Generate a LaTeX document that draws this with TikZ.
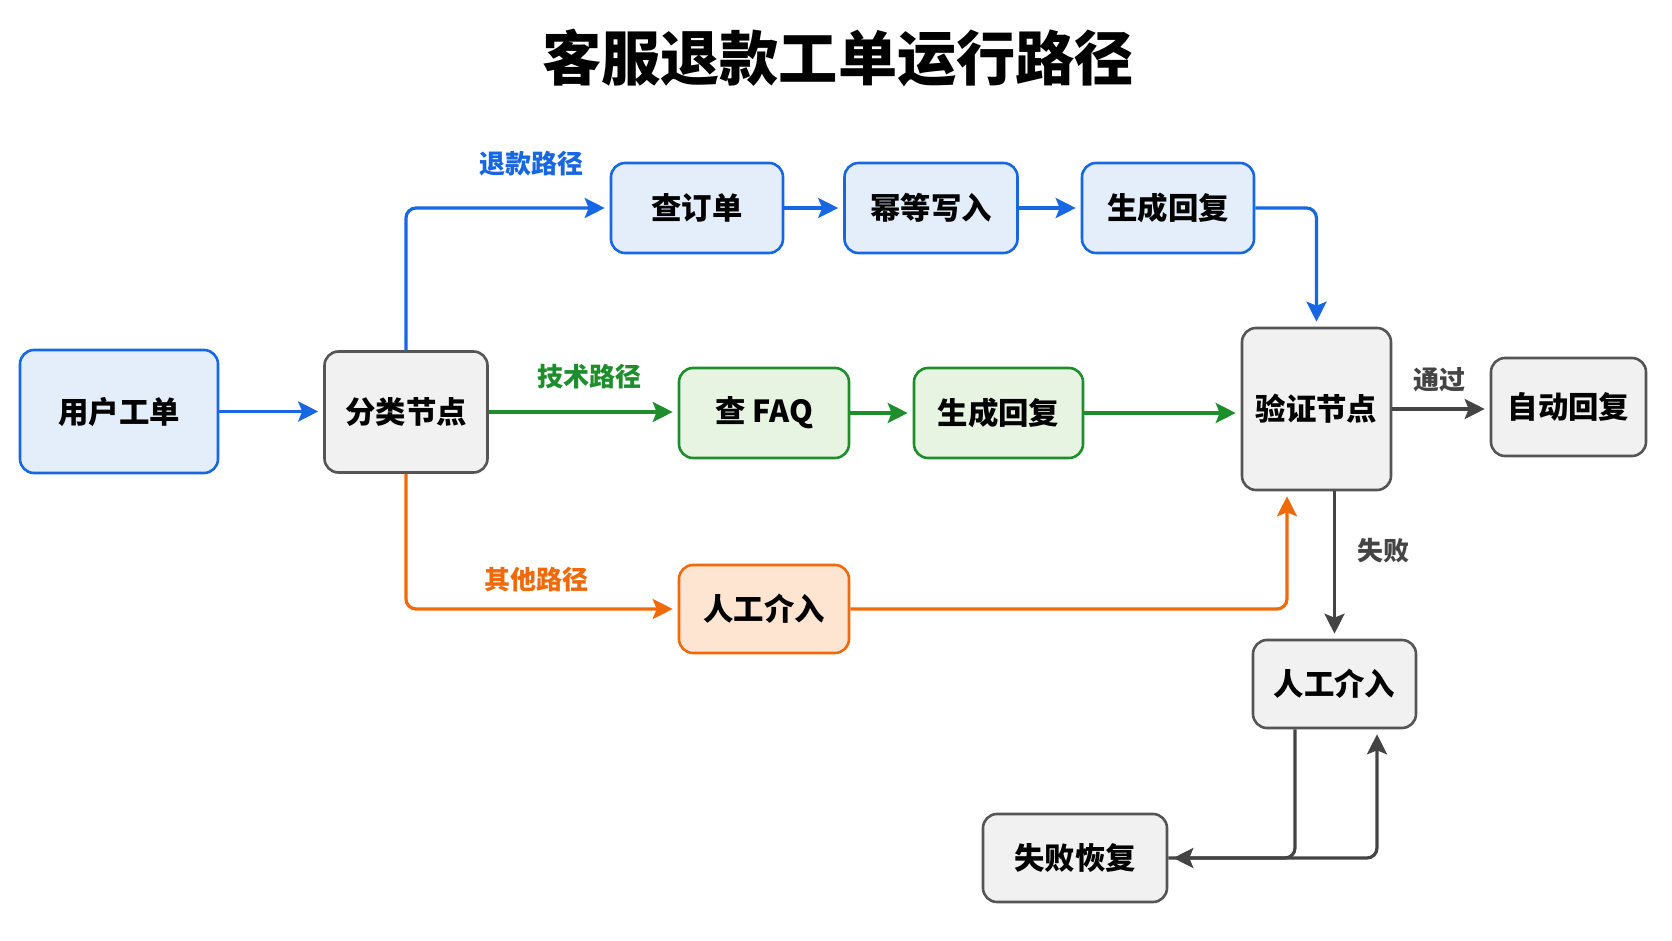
\documentclass[tikz,border=0pt]{standalone}
\usepackage{fontspec}
\setmainfont{Noto Sans CJK SC}
\usetikzlibrary{arrows.meta,calc}
\definecolor{blueS}{HTML}{1767E2}
\definecolor{blueF}{HTML}{E4EEFB}
\definecolor{greenS}{HTML}{1E8E2C}
\definecolor{greenF}{HTML}{E6F4E1}
\definecolor{orangeS}{HTML}{F06A0C}
\definecolor{orangeF}{HTML}{FDE5D1}
\definecolor{grayS}{HTML}{555555}
\definecolor{grayF}{HTML}{F1F1F1}
\definecolor{darkA}{HTML}{444444}
\begin{document}
\begin{tikzpicture}[x=0.5pt,y=-0.5pt,
  box/.style={rounded corners=7pt, line width=1.3pt, align=center, inner sep=0pt, font=\fontsize{15.2pt}{18pt}\selectfont\bfseries},
  bluebox/.style={box, draw=blueS, fill=blueF},
  greenbox/.style={box, draw=greenS, fill=greenF},
  orangebox/.style={box, draw=orangeS, fill=orangeF},
  graybox/.style={box, draw=grayS, fill=grayF},
  conn/.style={line width=1.6pt, rounded corners=5pt, shorten >=2.5pt, -{Stealth[length=10pt,width=10pt,inset=2pt]}},
  bconn/.style={conn, draw=blueS, color=blueS},
  gconn/.style={conn, draw=greenS, color=greenS},
  oconn/.style={conn, draw=orangeS, color=orangeS},
  dconn/.style={conn, draw=darkA, color=darkA},
  lbl/.style={font=\fontsize{13pt}{15pt}\selectfont\bfseries, inner sep=0pt}
]
\useasboundingbox[fill=white] (0,0) rectangle (1672,941);

\node[font=\fontsize{29.6pt}{33pt}\selectfont\bfseries, inner sep=0pt] (title) at (838,58) {客服退款工单运行路径};

\node[bluebox, minimum width=99pt, minimum height=61.5pt] (user) at (119,411.5) {用户工单};
\node[graybox, minimum width=81.5pt, minimum height=60.5pt] (cls) at (406,412) {分类节点};
\node[bluebox, minimum width=86pt, minimum height=45pt] (order) at (697,208) {查订单};
\node[bluebox, minimum width=86.5pt, minimum height=45pt] (idem) at (931,208) {幂等写入};
\node[bluebox, minimum width=86pt, minimum height=45pt] (genA) at (1168,208) {生成回复};
\node[greenbox, minimum width=85pt, minimum height=45pt] (faq) at (764,413) {查 FAQ};
\node[greenbox, minimum width=84.5pt, minimum height=45pt] (genB) at (998.5,413) {生成回复};
\node[graybox, minimum width=74.5pt, minimum height=81pt] (verify) at (1316.5,409) {验证节点};
\node[graybox, minimum width=77.5pt, minimum height=49pt] (auto) at (1568.5,407) {自动回复};
\node[orangebox, minimum width=85pt, minimum height=44pt] (manO) at (764,609) {人工介入};
\node[graybox, minimum width=81.5pt, minimum height=44pt] (manG) at (1334.5,684) {人工介入};
\node[graybox, minimum width=92pt, minimum height=44pt] (recover) at (1075,858) {失败恢复};

\node[lbl, text=blueS] (lrefund) at (531,164) {退款路径};
\node[lbl, text=greenS] (ltech) at (589,377) {技术路径};
\node[lbl, text=orangeS] (lother) at (536,580) {其他路径};
\node[lbl, text=darkA] (lpass) at (1439,380) {通过};
\node[lbl, text=darkA] (lfail) at (1383,551) {失败};

\draw[bconn] (user.east) -- (user.east -| cls.west);
\draw[bconn] (cls.north) |- (order.west);
\draw[bconn] (order.east) -- (idem.west);
\draw[bconn] (idem.east) -- (genA.west);
\draw[bconn] (genA.east) -| (verify.north);

\draw[gconn] (cls.east) -- (cls.east -| faq.west);
\draw[gconn] (faq.east) -- (genB.west);
\draw[gconn] (genB.east) -- (genB.east -| verify.west);

\draw[oconn] (cls.south) |- (manO.west);
\draw[oconn] (manO.east) -| ([xshift=-14.75pt]verify.south);

\draw[dconn] (verify.east) -- (verify.east -| auto.west);
\draw[dconn] (manG.north |- verify.south) -- (manG.north);
\draw[dconn] ([xshift=-19.75pt]manG.south) |- (recover.east);
\draw[dconn] (recover.east) -| ([xshift=21.25pt]manG.south);
\end{tikzpicture}
\end{document}
